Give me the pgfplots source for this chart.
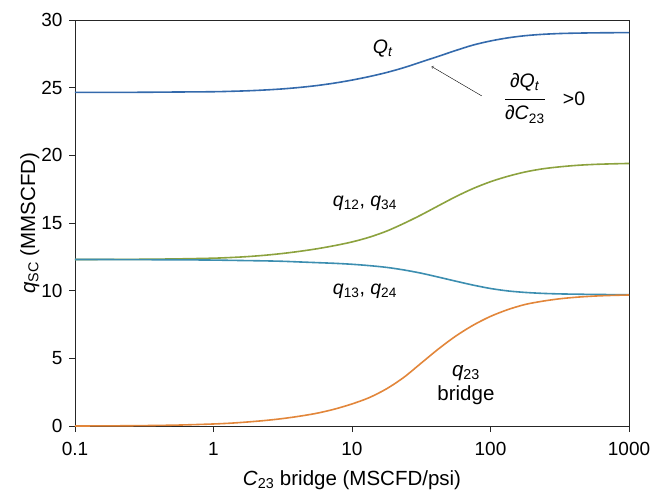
\documentclass[border=0pt]{standalone}
\usepackage{pgfplots}
\pgfplotsset{compat=1.18}
\usepackage{fontspec}
\setmainfont{Liberation Sans}

\definecolor{qtblue}{RGB}{52,106,172}
\definecolor{qgreen}{RGB}{140,162,62}
\definecolor{qteal}{RGB}{60,142,176}
\definecolor{qorange}{RGB}{226,134,58}

\newcommand{\lbl}{\fontsize{19}{22}\selectfont}
\newcommand{\axlbl}{\fontsize{20.5}{24}\selectfont}
\newcommand{\ann}{\fontsize{19.5}{23}\selectfont}

\begin{document}
\lbl
\begin{tikzpicture}
\useasboundingbox (-75pt,-66pt) rectangle (575pt,426pt);
\begin{semilogxaxis}[
  scale only axis,
  width=554pt, height=406pt,
  at={(0pt,0pt)}, anchor=south west,
  xmin=0.1, xmax=1000, ymin=0, ymax=30,
  xtick={0.1,1,10,100,1000},
  xticklabels={0.1,1,10,100,1000},
  ytick={0,5,10,15,20,25,30},
  xminorticks=false,
  tick align=outside, tick pos=left,
  major tick length=6pt,
  axis line style={black!85, line width=0.8pt},
  every tick/.style={black!85, line width=0.8pt},
  /pgf/number format/assume math mode=true,
  tick label style={font=\lbl},
  xticklabel style={yshift=-4pt},
  label style={font=\axlbl},
  xlabel={\textit{C}\textsubscript{23} bridge (MSCFD/psi)},
  ylabel={\textit{q}\textsubscript{SC} (MMSCFD)},
  xlabel style={yshift=-2pt},
  ylabel style={yshift=-11pt},
  every axis plot/.append style={line width=1.6pt, no markers, smooth},
]
% Q_t: total rate
\addplot[qtblue] coordinates {
 (0.1,24.65) (0.178,24.65) (0.316,24.66) (0.562,24.68)
 (1,24.70) (1.334,24.73) (1.778,24.77) (2.371,24.83) (3.162,24.91) (4.217,25.02)
 (5.623,25.16) (7.499,25.34) (10,25.56) (13.34,25.82) (17.78,26.12) (23.71,26.48)
 (31.62,26.90) (42.17,27.32) (56.23,27.75) (74.99,28.15) (100,28.45) (133.4,28.68)
 (177.8,28.84) (237.1,28.94) (316.2,29.00) (421.7,29.03) (562.3,29.05) (749.9,29.06) (1000,29.07)};
% q12, q34
\addplot[qgreen] coordinates {
 (0.1,12.30) (0.178,12.31) (0.316,12.32) (0.562,12.35)
 (1,12.40) (1.334,12.45) (1.778,12.52) (2.371,12.62) (3.162,12.75) (4.217,12.91)
 (5.623,13.10) (7.499,13.33) (10,13.60) (13.34,13.95) (17.78,14.40) (23.71,14.97)
 (31.62,15.60) (42.17,16.28) (56.23,16.95) (74.99,17.55) (100,18.05) (133.4,18.45)
 (177.8,18.77) (237.1,19.00) (316.2,19.15) (421.7,19.26) (562.3,19.33) (749.9,19.37) (1000,19.40)};
% q13, q24
\addplot[qteal] coordinates {
 (0.1,12.30) (0.178,12.30) (0.316,12.29) (0.562,12.28)
 (1,12.26) (1.334,12.24) (1.778,12.22) (2.371,12.20) (3.162,12.17) (4.217,12.12)
 (5.623,12.07) (7.499,12.02) (10,11.95) (13.34,11.85) (17.78,11.72) (23.71,11.53)
 (31.62,11.29) (42.17,11.00) (56.23,10.70) (74.99,10.41) (100,10.16) (133.4,9.98)
 (177.8,9.87) (237.1,9.80) (316.2,9.76) (421.7,9.74) (562.3,9.72) (749.9,9.71) (1000,9.70)};
% q23 bridge
\addplot[qorange] coordinates {
 (0.1,0.00) (0.178,0.01) (0.316,0.03) (0.562,0.07)
 (1,0.15) (1.334,0.21) (1.778,0.30) (2.371,0.41) (3.162,0.55) (4.217,0.73)
 (5.623,0.95) (7.499,1.25) (10,1.63) (13.34,2.10) (17.78,2.75) (23.71,3.60)
 (31.62,4.65) (42.17,5.70) (56.23,6.65) (74.99,7.45) (100,8.10) (133.4,8.60)
 (177.8,8.98) (237.1,9.22) (316.2,9.40) (421.7,9.52) (562.3,9.60) (749.9,9.65) (1000,9.68)};

\node[font=\ann] at (axis cs:16.7,27.9) {\textit{Q}\textsubscript{\textit{t}}};
\draw[->, thin] (axis cs:86.5,24.39) -- (axis cs:37.6,26.56);
\node[font=\ann, inner sep=0pt] at (axis cs:177,24.17)
  {\setlength{\arrayrulewidth}{1pt}\setlength{\tabcolsep}{0pt}%
   \begin{tabular}{c}
   ∂\textit{Q}\textsubscript{\textit{t}}\\[5pt]\hline
   \rule{0pt}{20pt}∂\textit{C}\textsubscript{23}
   \end{tabular}};
\node[font=\ann] at (axis cs:401,24.2) {>0};
\node[font=\ann] at (axis cs:12.4,16.46) {\textit{q}\textsubscript{12}, \textit{q}\textsubscript{34}};
\node[font=\ann] at (axis cs:12.4,9.93) {\textit{q}\textsubscript{13}, \textit{q}\textsubscript{24}};
\node[font=\axlbl, align=center] at (axis cs:66.5,3.03) {\textit{q}\textsubscript{23}\\bridge};
\end{semilogxaxis}
\end{tikzpicture}
\end{document}
